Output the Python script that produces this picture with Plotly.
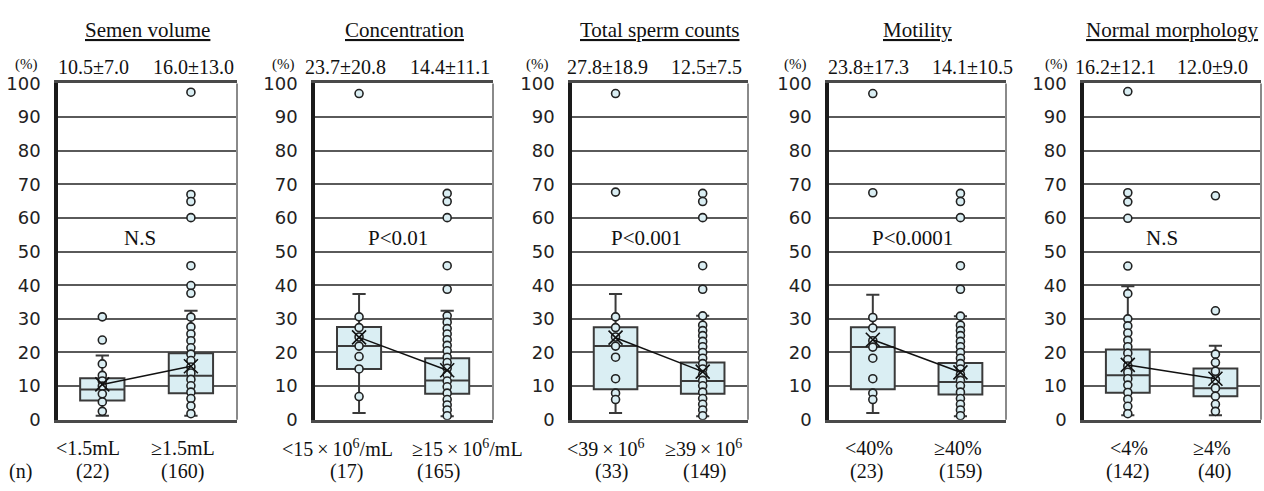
import plotly.graph_objects as go

# ---------------- data ----------------
titles = ["Semen volume", "Concentration", "Total sperm counts", "Motility", "Normal morphology"]
cat_low = ["&lt;1.5mL", "&lt;15\u2009×\u200910<sup>6</sup>/mL", "&lt;39\u2009×\u200910<sup>6</sup>", "&lt;40%", "&lt;4%"]
cat_high = ["≥1.5mL", "≥15\u2009×\u200910<sup>6</sup>/mL", "≥39\u2009×\u200910<sup>6</sup>", "≥40%", "≥4%"]
n_low = [22, 17, 33, 23, 142]
n_high = [160, 165, 149, 159, 40]
msd_low = ["10.5±7.0", "23.7±20.8", "27.8±18.9", "23.8±17.3", "16.2±12.1"]
msd_high = ["16.0±13.0", "14.4±11.1", "12.5±7.5", "14.1±10.5", "12.0±9.0"]
stat_text = ["N.S", "P&lt;0.01", "P&lt;0.001", "P&lt;0.0001", "N.S"]

q1_low = [5.7, 15.1, 9.1, 9.1, 8.0]
med_low = [9.0, 21.9, 21.9, 21.6, 13.2]
q3_low = [12.3, 27.6, 27.5, 27.5, 20.9]
wlo_low = [1.2, 2.0, 2.0, 2.0, 1.3]
whi_low = [19.1, 37.4, 37.4, 37.2, 39.7]
mean_low = [10.5, 24.5, 24.4, 23.8, 16.3]

q1_high = [7.9, 7.7, 7.7, 7.5, 7.0]
med_high = [13.1, 11.7, 11.5, 11.2, 9.4]
q3_high = [19.8, 18.3, 17.0, 16.9, 15.2]
wlo_high = [1.2, 1.0, 1.0, 1.0, 1.3]
whi_high = [32.4, 32.4, 30.9, 30.8, 22.0]
mean_high = [15.9, 14.7, 14.3, 14.1, 12.2]

pts_vol_low = [30.6, 23.7, 16.6, 13.2, 11.5, 10.0, 7.7, 5.3, 2.5]
pts_vol_high = [97.4, 67.0, 64.9, 60.1, 45.8, 39.9, 37.6, 30.5, 27.6, 25.5, 23.5, 21.4,
                19.5, 17.6, 15.7, 13.9, 12.0, 10.1, 8.2, 6.3, 4.1, 1.8]
pts_conc_low = [97.0, 30.6, 27.4, 24.6, 21.9, 18.8, 15.1, 6.9]
pts_conc_high = [67.3, 64.9, 60.1, 45.8, 38.8, 30.9, 29.0, 27.1, 25.5, 23.8, 22.1, 20.5,
                 18.6, 17.0, 15.3, 13.4, 11.5, 9.8, 7.9, 6.0, 4.4, 2.9, 1.2]
pts_tsc_low = [97.0, 67.7, 30.6, 27.4, 24.6, 21.9, 18.6, 12.2, 7.9, 6.0]
pts_tsc_high = [67.3, 64.9, 60.1, 45.8, 38.8, 30.9, 28.1, 26.5, 25.0, 23.3, 21.7, 20.0,
                18.3, 16.7, 15.1, 13.4, 11.7, 10.1, 8.2, 6.3, 4.6, 2.9, 1.2]
pts_mot_low = [97.0, 67.5, 30.4, 27.3, 23.5, 21.6, 18.3, 12.2, 7.9, 6.0]
pts_mot_high = [67.3, 64.9, 60.1, 45.8, 38.8, 30.8, 28.1, 26.5, 25.0, 23.3, 21.7, 20.0,
                18.3, 16.7, 15.1, 13.4, 11.7, 10.1, 8.2, 6.3, 4.6, 2.9, 1.2]
pts_mor_low = [97.6, 67.5, 64.8, 59.9, 45.7, 37.5, 30.0, 27.9, 25.8, 23.6, 21.7, 19.8,
               17.9, 16.0, 14.1, 12.2, 10.3, 8.1, 6.1, 4.0, 1.8]
pts_mor_high = [66.6, 32.4, 19.5, 17.0, 14.4, 11.9, 9.4, 7.0, 4.6, 2.5]

pts_low = [pts_vol_low, pts_conc_low, pts_tsc_low, pts_mot_low, pts_mor_low]
pts_high = [pts_vol_high, pts_conc_high, pts_tsc_high, pts_mot_high, pts_mor_high]

# ---------------- layout / style ----------------
W, H = 1264, 491
panel_px = [(58, 237), (315, 493), (572, 748), (829, 1006), (1084, 1261)]
y_dom = [(H - 427) / H, (H - 75.7) / H]
stat_x = [0.43, 0.44, 0.35, 0.45, 0.39]
# label pixel shifts relative to box centres
msd_shift = [(-9, 3), (-14, 3), (-8, 4), (-4, 12), (-12, -3)]
cat_shift = [(-14, -8), (-22, 20), (-10, 1), (-4, -2), (1, -3)]
cnt_shift = [(-10, -8), (-13, -9), (-4, 2), (-6, 0), (0, -1)]
pct_shift = [-32, -32, -35, -34, -28]

BOX_FILL = "#DAEEF3"
BOX_LINE = "#3a3a3a"
SERIF = "Liberation Serif"
TXT = "#111111"

def py(p):
    return (H - p) / H

fig = go.Figure()
annotations = []
shapes = []
layout = dict(width=W, height=H, margin=dict(l=0, r=0, t=0, b=0), autosize=False,
              paper_bgcolor="white", plot_bgcolor="white", showlegend=False,
              boxmode="overlay")

for i in range(5):
    xa = "x" if i == 0 else f"x{i+1}"
    ya = "y" if i == 0 else f"y{i+1}"
    xkey = "xaxis" if i == 0 else f"xaxis{i+1}"
    ykey = "yaxis" if i == 0 else f"yaxis{i+1}"

    fig.add_trace(go.Box(
        x=[0, 1], q1=[q1_low[i], q1_high[i]], median=[med_low[i], med_high[i]],
        q3=[q3_low[i], q3_high[i]], lowerfence=[wlo_low[i], wlo_high[i]],
        upperfence=[whi_low[i], whi_high[i]], width=0.5, whiskerwidth=0.3,
        fillcolor=BOX_FILL, line=dict(color=BOX_LINE, width=2), boxpoints=False,
        xaxis=xa, yaxis=ya, hoverinfo="skip"))

    xs = [0] * len(pts_low[i]) + [1] * len(pts_high[i])
    ys = list(pts_low[i]) + list(pts_high[i])
    fig.add_trace(go.Scatter(
        x=xs, y=ys, mode="markers", xaxis=xa, yaxis=ya,
        marker=dict(symbol="circle", size=8, color=BOX_FILL,
                    line=dict(color="#222222", width=1.6)), hoverinfo="skip"))

    fig.add_trace(go.Scatter(
        x=[0, 1], y=[mean_low[i], mean_high[i]], mode="lines+markers",
        xaxis=xa, yaxis=ya, line=dict(color="#111111", width=1.5),
        marker=dict(symbol="x-thin", size=14, color="#111111",
                    line=dict(color="#111111", width=1.6)), hoverinfo="skip"))

    x0, x1 = panel_px[i]
    layout[xkey] = dict(domain=[x0 / W, x1 / W], range=[-0.5, 1.52], showgrid=False,
                        zeroline=False, showticklabels=False, ticks="", showline=True,
                        linecolor="#4a4a4a", linewidth=2.5, mirror=True,
                        fixedrange=True, anchor=ya)
    layout[ykey] = dict(domain=y_dom, range=[0, 100], dtick=10, tick0=0, showgrid=True,
                        gridcolor="#5a5a5a", gridwidth=1.5, zeroline=False,
                        showline=True, linecolor="#1a1a1a", linewidth=3.5, ticks="",
                        tickfont=dict(family="DejaVu Sans", size=18, color="#222222"),
                        ticklabelstandoff=10, fixedrange=True, anchor=xa)

    shapes.append(dict(type="line", xref=f"{xa} domain", yref=f"{ya} domain",
                       x0=1, x1=1, y0=0, y1=1, line=dict(color="#8a8a8a", width=2)))

    # title
    annotations.append(dict(text=f"<u>{titles[i]}</u>", xref=f"{xa} domain", yref="paper",
                            x=0.5, y=py(20), showarrow=False, xanchor="center",
                            yanchor="middle", font=dict(family=SERIF, size=21, color=TXT)))
    # (%)
    annotations.append(dict(text="(%)", xref=f"{xa} domain", yref="paper", x=0,
                            xshift=pct_shift[i], y=py(56), showarrow=False,
                            xanchor="center", yanchor="middle",
                            font=dict(family=SERIF, size=15, color=TXT)))
    # mean ± SD
    annotations.append(dict(text=msd_low[i], xref=xa, yref="paper", x=0,
                            xshift=msd_shift[i][0], y=py(59), showarrow=False,
                            xanchor="center", yanchor="middle",
                            font=dict(family=SERIF, size=20, color=TXT)))
    annotations.append(dict(text=msd_high[i], xref=xa, yref="paper", x=1,
                            xshift=msd_shift[i][1], y=py(59), showarrow=False,
                            xanchor="center", yanchor="middle",
                            font=dict(family=SERIF, size=20, color=TXT)))
    # statistics
    annotations.append(dict(text=stat_text[i], xref=xa, yref=ya, x=stat_x[i], y=54,
                            showarrow=False, xanchor="center", yanchor="middle",
                            font=dict(family=SERIF, size=21, color=TXT)))
    # category labels
    annotations.append(dict(text=cat_low[i], xref=xa, yref="paper", x=0,
                            xshift=cat_shift[i][0], y=py(457), showarrow=False,
                            xanchor="center", yanchor="middle",
                            font=dict(family=SERIF, size=20, color=TXT)))
    annotations.append(dict(text=cat_high[i], xref=xa, yref="paper", x=1,
                            xshift=cat_shift[i][1], y=py(457), showarrow=False,
                            xanchor="center", yanchor="middle",
                            font=dict(family=SERIF, size=20, color=TXT)))
    # counts
    annotations.append(dict(text=f"({n_low[i]})", xref=xa, yref="paper", x=0,
                            xshift=cnt_shift[i][0], y=py(481), showarrow=False,
                            xanchor="center", yanchor="middle",
                            font=dict(family=SERIF, size=20, color=TXT)))
    annotations.append(dict(text=f"({n_high[i]})", xref=xa, yref="paper", x=1,
                            xshift=cnt_shift[i][1], y=py(481), showarrow=False,
                            xanchor="center", yanchor="middle",
                            font=dict(family=SERIF, size=20, color=TXT)))

annotations.append(dict(text="(n)", xref="paper", yref="paper", x=20 / W, y=py(481),
                        showarrow=False, xanchor="center", yanchor="middle",
                        font=dict(family=SERIF, size=20, color=TXT)))

layout["annotations"] = annotations
layout["shapes"] = shapes
fig.update_layout(**layout)
fig.write_html("out.html", config={"displayModeBar": False},
               post_script="document.body.style.margin='0px';document.body.style.overflow='hidden';")
